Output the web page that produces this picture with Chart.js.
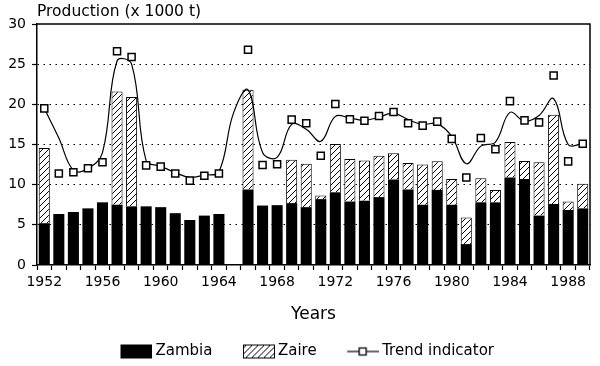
<!DOCTYPE html>
<html>
<head>
<meta charset="utf-8">
<script src="https://cdn.jsdelivr.net/npm/chart.js@4.4.0/dist/chart.umd.min.js"></script>
<style>
html,body{margin:0;padding:0;background:#fff;}
#wrap{width:600px;height:366px;}
canvas{display:block;}
</style>
</head>
<body>
<div id="wrap"><canvas id="c" width="600" height="366" style="width:600px;height:366px"></canvas></div>
<script>
// ---- data ----
const years = ['1952','1953','1954','1955','1956','1957','1958','1959','1960','1961','1962','1963','1964','1965',
  '1966','1967','1968','1969','1970','1971','1972','1973','1974','1975','1976','1977','1978','1979','1980',
  '1981','1982','1983','1984','1985','1986','1987','1988','1989'];
const shownYearLabels = ['1952','1956','1960','1964','1968','1972','1976','1980','1984','1988'];
const yTickValues = [0,5,10,15,20,25,30];

const zambia = [5.2,6.35,6.6,7.05,7.8,7.5,7.3,7.3,7.2,6.45,5.6,6.15,6.35,null,
  9.4,7.4,7.45,7.7,7.2,8.2,9.05,7.9,8.0,8.45,10.65,9.4,7.5,9.35,7.5,2.6,7.8,7.8,10.9,10.7,6.15,7.6,6.85,7.05];
const zaire = [9.35,null,null,null,null,14.1,13.6,null,null,null,null,null,null,null,
  12.4,null,null,5.4,5.4,0.45,6.0,5.3,5.0,5.15,3.25,3.3,5.0,3.55,3.2,3.3,3.0,1.55,4.4,2.25,6.65,11.1,1.05,3.05];
const trendPoints = [19.5,11.4,11.55,12.05,12.8,26.6,25.9,12.4,12.25,11.4,10.5,11.1,11.4,null,
  26.8,12.45,12.55,18.1,17.65,13.6,20.05,18.15,17.95,18.55,19.05,17.65,17.35,17.85,15.7,10.9,15.8,14.4,20.4,18.0,17.75,23.6,12.9,15.1];
const trendCurve = [19.5,15.8,11.8,12.0,14.0,25.4,25.0,13.0,12.3,11.5,10.9,11.2,11.6,18.9,
  21.8,14.0,13.4,17.5,16.9,15.4,18.5,18.3,18.0,18.4,18.9,18.1,17.5,17.6,16.0,12.6,14.8,15.3,19.0,17.9,18.6,20.7,15.0,15.1];

const titleText = 'Production (x 1000 t)';
const legendNames = ['Zambia','Zaire','Trend indicator'];

// ---- styling helpers ----
const FONT = 'DejaVu Sans';
const PB = -3; // layout bottom padding
function hatchTile(){
  const s = 6;
  const c = document.createElement('canvas'); c.width = s; c.height = s;
  const g = c.getContext('2d');
  g.fillStyle = '#fff'; g.fillRect(0,0,s,s);
  g.strokeStyle = '#000'; g.lineWidth = 1;
  g.beginPath();
  g.moveTo(0, s); g.lineTo(s, 0);
  g.moveTo(-s, s); g.lineTo(s, -s);
  g.moveTo(0, 2*s); g.lineTo(2*s, 0);
  g.stroke();
  return c;
}
const mainCtx = document.getElementById('c').getContext('2d');
const hatch = mainCtx.createPattern(hatchTile(), 'repeat');

const PSW = 48;          // legend pointStyleWidth
const IW = PSW + 9;      // swatch image width
function swatch(kind){
  const c = document.createElement('canvas'); c.width = IW; c.height = 16;
  const g = c.getContext('2d');
  if (kind === 'solid'){
    g.fillStyle = '#000'; g.fillRect(IW-32, 1, 32, 14);
  } else if (kind === 'hatch'){
    g.fillStyle = g.createPattern(hatchTile(), 'repeat'); g.fillRect(IW-32, 1, 32, 14);
    g.strokeStyle = '#000'; g.lineWidth = 1; g.strokeRect(IW-32+0.5, 1.5, 31, 13);
  } else {
    g.strokeStyle = '#000'; g.lineWidth = 1.2;
    g.beginPath(); g.moveTo(IW-32, 8); g.lineTo(IW, 8); g.stroke();
    g.fillStyle = '#fff'; g.fillRect(IW-20, 4.5, 7, 7);
    g.lineWidth = 1.3; g.strokeRect(IW-20, 4.5, 7, 7);
  }
  return c;
}
const swatches = [swatch('solid'), swatch('hatch'), swatch('line')];

const framePlugin = {
  id: 'frameAndTitle',
  afterDraw(chart){
    const {ctx, chartArea: a} = chart;
    ctx.save();
    ctx.strokeStyle = '#000'; ctx.lineWidth = 1.5;
    ctx.beginPath();
    ctx.moveTo(a.left, a.top); ctx.lineTo(a.right, a.top); ctx.lineTo(a.right, a.bottom);
    ctx.stroke();
    ctx.fillStyle = '#000';
    ctx.font = '15.5px "' + FONT + '"';
    ctx.textBaseline = 'middle'; ctx.textAlign = 'left';
    ctx.fillText(titleText, a.left, 12);
    ctx.restore();
  }
};

new Chart(mainCtx, {
  data: {
    labels: years,
    datasets: [
      { type:'bar', label: legendNames[0], data: zambia, backgroundColor:'#000', borderWidth:0,
        stack:'prod', order:2, barPercentage:0.76, categoryPercentage:1 },
      { type:'bar', label: legendNames[1], data: zaire, backgroundColor: hatch, borderColor:'#000',
        borderWidth:1, borderSkipped:'bottom', stack:'prod', order:2, barPercentage:0.76, categoryPercentage:1 },
      { type:'line', label:'curve', data: trendCurve, borderColor:'#000', borderWidth:1.2, pointRadius:0,
        tension:0.4, fill:false, stack:'curve', order:1 },
      { type:'line', label: legendNames[2], data: trendPoints, showLine:false, pointStyle:'rect',
        pointRadius:5, pointBackgroundColor:'#fff', pointBorderColor:'#000', pointBorderWidth:1.5,
        stack:'trend', order:0 }
    ]
  },
  options: {
    responsive:false, animation:false, events:[], devicePixelRatio:1,
    layout:{ padding:{ top:24, right:10, left:4, bottom:PB } },
    plugins:{
      tooltip:{enabled:false},
      title:{display:false},
      legend:{
        position:'bottom',
        labels:{
          usePointStyle:true, pointStyleWidth:PSW, boxHeight:14, padding:10,
          color:'#000', font:{family:FONT, size:15},
          generateLabels: () => legendNames.map((t,i) => ({
            text:t, pointStyle:swatches[i], hidden:false, lineWidth:0,
            fillStyle:'#000', strokeStyle:'#000', fontColor:'#000', datasetIndex: i
          }))
        }
      }
    },
    scales:{
      x:{
        stacked:true, offset:true,
        grid:{ drawOnChartArea:false, drawTicks:true, tickLength:5, tickColor:'#000', tickWidth:1.2 },
        border:{ display:true, color:'#000', width:1.5 },
        ticks:{ autoSkip:false, maxRotation:0, minRotation:0, color:'#000', padding:4,
          font:{family:FONT, size:14},
          callback:(v,i) => shownYearLabels.includes(years[i]) ? years[i] : '' },
        title:{ display:true, text:'Years', color:'#000', font:{family:FONT, size:17}, padding:{top:4,bottom:9} },
        afterFit(scale){
          const ch = scale.chart;
          const lh = ch.legend ? ch.legend.height : 0;
          scale.height = ch.height - PB - 265 - lh;
        }
      },
      y:{
        stacked:true, min:0, max:30,
        afterBuildTicks(scale){ scale.ticks = yTickValues.map(v => ({value:v})); },
        grid:{ color:(c) => (c.tick && (c.tick.value===0 || c.tick.value===30)) ? 'rgba(0,0,0,0)' : '#000',
          lineWidth:1, drawTicks:true, tickLength:5, tickColor:'#000', tickWidth:1.2 },
        border:{ display:true, color:'#000', width:1.5, dash:[1.5,4.5] },
        ticks:{ color:'#000', padding:6, font:{family:FONT, size:14} },
        afterFit(scale){ scale.width = 33; }
      }
    }
  },
  plugins:[framePlugin]
});
</script>
</body>
</html>
